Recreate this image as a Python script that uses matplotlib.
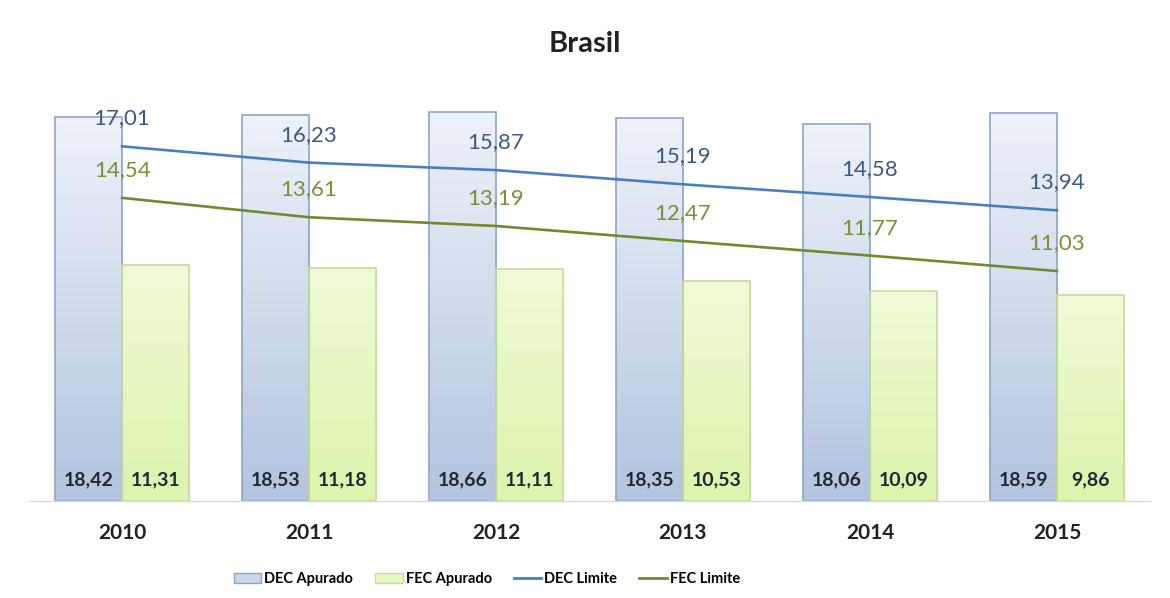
import matplotlib
matplotlib.use("Agg")
import matplotlib.pyplot as plt
import numpy as np
from matplotlib.colors import LinearSegmentedColormap
from matplotlib.patches import Patch
from matplotlib.lines import Line2D

years = ["2010", "2011", "2012", "2013", "2014", "2015"]
dec_apurado = [18.42, 18.53, 18.66, 18.35, 18.06, 18.59]
fec_apurado = [11.31, 11.18, 11.11, 10.53, 10.09, 9.86]
dec_limite = [17.01, 16.23, 15.87, 15.19, 14.58, 13.94]
fec_limite = [14.54, 13.61, 13.19, 12.47, 11.77, 11.03]

plt.rcParams["font.family"] = ["Lato", "DejaVu Sans"]

fig = plt.figure(figsize=(11.7, 5.98), dpi=100)
ax = fig.add_axes([0.0244, 0.1622, 0.9589, 0.6729])

x = np.arange(len(years))
w = 0.36

dec_cmap = LinearSegmentedColormap.from_list("dec", ["#B3C4DE", "#EEF2FA"])
fec_cmap = LinearSegmentedColormap.from_list("fec", ["#DCF4AC", "#F1FAD8"])
grad = np.linspace(0, 1, 256).reshape(-1, 1)


def gradient_bars(bars, cmap):
    for b in bars:
        x0, y0 = b.get_x(), b.get_y()
        im = ax.imshow(grad, cmap=cmap, origin="lower", aspect="auto",
                       extent=[x0, x0 + b.get_width(), y0, y0 + b.get_height()],
                       zorder=1)
        im.set_clip_path(b)


dec_bars = ax.bar(x - w / 2, dec_apurado, w, facecolor="none",
                  edgecolor="#8DA5CA", linewidth=1.2, zorder=2)
fec_bars = ax.bar(x + w / 2, fec_apurado, w, facecolor="none",
                  edgecolor="#C6DC98", linewidth=1.2, zorder=2)
gradient_bars(dec_bars, dec_cmap)
gradient_bars(fec_bars, fec_cmap)

ax.plot(x, dec_limite, color="#4A7EC4", linewidth=1.9, zorder=3)
ax.plot(x, fec_limite, color="#6F8C2C", linewidth=1.9, zorder=3)

def fmt(v):
    return f"{v:.2f}".replace(".", ",")

for i in range(len(years)):
    ax.annotate(fmt(dec_apurado[i]), (x[i] - w / 2, 0), xytext=(0, 15),
                textcoords="offset points", ha="center", va="center",
                fontsize=14, fontweight="bold", color="#1E2838", zorder=4)
    ax.annotate(fmt(fec_apurado[i]), (x[i] + w / 2, 0), xytext=(0, 15),
                textcoords="offset points", ha="center", va="center",
                fontsize=14, fontweight="bold", color="#1E2838", zorder=4)
    ax.annotate(fmt(dec_limite[i]), (x[i], dec_limite[i]), xytext=(0, 20),
                textcoords="offset points", ha="center", va="center",
                fontsize=16, color="#3D5A82", zorder=4)
    ax.annotate(fmt(fec_limite[i]), (x[i], fec_limite[i]), xytext=(0, 20),
                textcoords="offset points", ha="center", va="center",
                fontsize=16, color="#7A9036", zorder=4)

ax.set_xlim(-0.5, len(years) - 0.5)
ax.set_ylim(0, 19.3)
ax.set_xticks(x)
ax.set_xticklabels(years, fontsize=15, fontweight="bold", color="#222222")
ax.tick_params(axis="x", length=0, pad=16)
ax.set_yticks([])
for s in ["top", "right", "left"]:
    ax.spines[s].set_visible(False)
ax.spines["bottom"].set_color("#D9D9D9")
ax.spines["bottom"].set_linewidth(1.0)

fig.text(0.5, 0.927, "Brasil", ha="center", va="center", fontsize=21,
         fontweight="bold", color="#222222")

handles = [
    Patch(facecolor="#C9D6EC", edgecolor="#8DA5CA", label="DEC Apurado"),
    Patch(facecolor="#E8F8C4", edgecolor="#C6DC98", label="FEC Apurado"),
    Line2D([0], [0], color="#4A7EC4", linewidth=2, label="DEC Limite"),
    Line2D([0], [0], color="#6F8C2C", linewidth=2, label="FEC Limite"),
]
fig.legend(handles=handles, loc="center", bbox_to_anchor=(0.416, 0.031), ncol=4,
           frameon=False, prop={"size": 10.5, "weight": "bold"},
           handlelength=1.9, handletextpad=0.2, columnspacing=1.5)

fig.savefig("out.png", dpi=100)
